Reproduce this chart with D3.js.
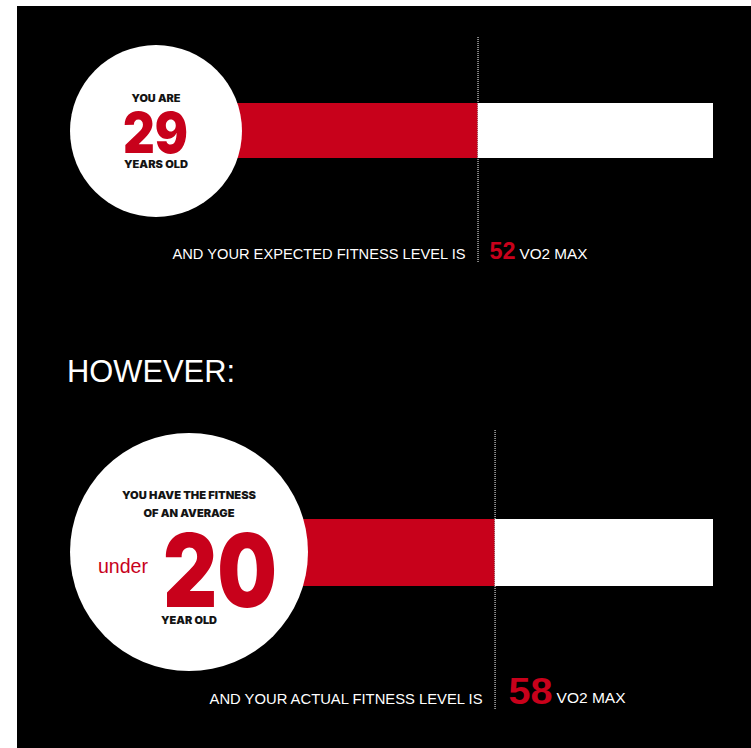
<!DOCTYPE html>
<html>
<head>
<meta charset="utf-8">
<script src="https://cdn.jsdelivr.net/npm/d3@7"></script>
<style>
  html, body { margin: 0; padding: 0; background: #fff; }
  svg { display: block; }
</style>
</head>
<body>
<svg id="chart" width="751" height="748"></svg>
<script>
// VO2 max: expected for your age vs. what you actually measured
const rowKeys = ["expected", "actual"];
const vo2Values = [52, 58];
const ageNumbers = ["29", "20"];
const ageTopLines = [["YOU ARE"], ["YOU HAVE THE FITNESS", "OF AN AVERAGE"]];
const ageBottomLines = ["YEARS OLD", "YEAR OLD"];
const agePrefixes = ["", "under"];
const fitnessLabels = ["AND YOUR EXPECTED FITNESS LEVEL IS", "AND YOUR ACTUAL FITNESS LEVEL IS"];
const unitLabel = "VO2 MAX";
const headline = "HOWEVER:";
const vo2Domain = [0, 135];

const RED = "#c8011b";
const INK = "#141414";
const HEAVY = "Inter, Roboto, 'DejaVu Sans', sans-serif";
const PLAIN = "'Liberation Sans', Arial, sans-serif";

const svg = d3.select("#chart");
svg.append("rect").attr("x", 17).attr("y", 6).attr("width", 751 - 17).attr("height", 748 - 6).attr("fill", "#000");

const x = d3.scaleLinear().domain(vo2Domain).range([330, 713]);

// per-row layout
const layout = [
  { cx: 156, cy: 131, r: 86, barY: 103, barH: 55, lineTop: 37, lineBottom: 263, labelY: 259,
    numSize: 23, numW: 26, unitW: 68, labelW: 293,
    top: [{ y: 102, w: 49 }], age: { y: 153, x0: 123, w: 65, size: 56 },
    bottom: { y: 168, w: 64 }, prefix: null, small: 10 },
  { cx: 189, cy: 552, r: 119, barY: 519, barH: 67, lineTop: 430, lineBottom: 710, labelY: 704,
    numSize: 37, numW: 44, unitW: 69, labelW: 273,
    top: [{ y: 499, w: 134 }, { y: 517, w: 91 }], age: { y: 607, x0: 163, w: 114, size: 102 },
    bottom: { y: 624, w: 56 }, prefix: { x0: 98, y: 573, w: 50, size: 20 }, small: 10.5 }
];

const rows = rowKeys.map((k, i) => ({ key: k, value: vo2Values[i], i }));

const g = svg.selectAll("g.row").data(rows).join("g").attr("class", "row");

// white track to end of scale
g.append("rect")
  .attr("x", d => x(d.value))
  .attr("y", d => layout[d.i].barY)
  .attr("width", d => x(vo2Domain[1]) - x(d.value))
  .attr("height", d => layout[d.i].barH)
  .attr("fill", "#fff");

// red value bar, starting under the circle
g.append("rect")
  .attr("x", d => layout[d.i].cx)
  .attr("y", d => layout[d.i].barY)
  .attr("width", d => x(d.value) - layout[d.i].cx)
  .attr("height", d => layout[d.i].barH)
  .attr("fill", RED);

// dotted marker at the value
g.append("line")
  .attr("x1", d => x(d.value) + 0.5).attr("x2", d => x(d.value) + 0.5)
  .attr("y1", d => layout[d.i].lineTop).attr("y2", d => layout[d.i].lineBottom)
  .attr("stroke", "#fff").attr("stroke-width", 1).attr("stroke-dasharray", "1,1");

// age circle
g.append("circle")
  .attr("cx", d => layout[d.i].cx).attr("cy", d => layout[d.i].cy).attr("r", d => layout[d.i].r)
  .attr("fill", "#fff");

function fitText(sel, txt, x0, y, w, size, opts) {
  return sel.append("text")
    .attr("x", x0).attr("y", y)
    .attr("textLength", w).attr("lengthAdjust", "spacingAndGlyphs")
    .attr("font-family", opts.family).attr("font-weight", opts.weight)
    .attr("font-size", size).attr("fill", opts.fill)
    .text(txt);
}

g.each(function(d) {
  const sel = d3.select(this);
  const L = layout[d.i];
  ageTopLines[d.i].forEach((t, j) => {
    const p = L.top[j];
    fitText(sel, t, L.cx - p.w / 2, p.y, p.w, L.small, { family: HEAVY, weight: 900, fill: INK });
  });
  fitText(sel, ageNumbers[d.i], L.age.x0, L.age.y, L.age.w, L.age.size, { family: HEAVY, weight: 900, fill: RED });
  fitText(sel, ageBottomLines[d.i], L.cx - L.bottom.w / 2, L.bottom.y, L.bottom.w, L.small, { family: HEAVY, weight: 900, fill: INK });
  if (agePrefixes[d.i] && L.prefix) {
    fitText(sel, agePrefixes[d.i], L.prefix.x0, L.prefix.y, L.prefix.w, L.prefix.size, { family: PLAIN, weight: 400, fill: RED });
  }

  const vx = x(d.value);
  // label left of the marker
  fitText(sel, fitnessLabels[d.i], vx - 12 - L.labelW, L.labelY, L.labelW, 15, { family: PLAIN, weight: 400, fill: "#fff" });
  // value and unit right of the marker
  const numX = vx + 12 + (d.i === 1 ? 2 : 0);
  fitText(sel, String(d.value), numX, L.labelY, L.numW, L.numSize, { family: PLAIN, weight: 700, fill: RED });
  fitText(sel, unitLabel, numX + L.numW + 4, L.labelY - (d.i === 1 ? 1 : 0), L.unitW, 15, { family: PLAIN, weight: 400, fill: "#fff" });
});

// section heading between the two rows
svg.append("text")
  .attr("x", 67).attr("y", 382)
  .attr("textLength", 168).attr("lengthAdjust", "spacingAndGlyphs")
  .attr("font-family", PLAIN).attr("font-size", 31).attr("fill", "#fff")
  .text(headline);
</script>
</body>
</html>
